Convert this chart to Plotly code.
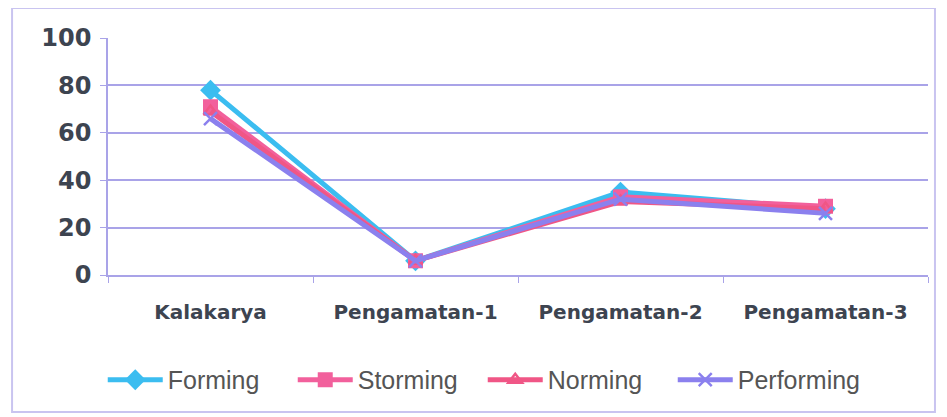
import plotly.graph_objects as go

categories = ["Kalakarya", "Pengamatan-1", "Pengamatan-2", "Pengamatan-3"]
forming = [78, 6, 35, 28]
storming = [71, 6, 33, 29]
norming = [69, 6, 31, 28]
performing = [66, 6, 32, 26]
y_ticks = [0, 20, 40, 60, 80, 100]

fig = go.Figure()
fig.add_trace(go.Scatter(x=categories, y=forming, name="Forming", mode="lines+markers",
                         line=dict(color="#3BBDF0", width=5),
                         marker=dict(symbol="diamond", size=16, color="#3BBDF0")))
fig.add_trace(go.Scatter(x=categories, y=storming, name="Storming", mode="lines+markers",
                         line=dict(color="#F2609C", width=5),
                         marker=dict(symbol="square", size=15, color="#F2609C")))
fig.add_trace(go.Scatter(x=categories, y=norming, name="Norming", mode="lines+markers",
                         line=dict(color="#F05686", width=5),
                         marker=dict(symbol="triangle-up-open", size=12, color="#F05686",
                                     line=dict(width=2.5))))
fig.add_trace(go.Scatter(x=categories, y=performing, name="Performing", mode="lines+markers",
                         line=dict(color="#8B80EE", width=5),
                         marker=dict(symbol="x-thin-open", size=13, color="#8B80EE",
                                     line=dict(width=2.5, color="#8B80EE"))))

fig.update_layout(
    width=939, height=409,
    margin=dict(l=100, r=19, t=30, b=142, autoexpand=False),
    paper_bgcolor="white", plot_bgcolor="white",
    font=dict(family="Liberation Sans, Arial", color="#3d4450"),
    showlegend=True,
    legend=dict(orientation="h", x=0.457, xanchor="center", y=-0.443, yanchor="middle",
                font=dict(size=25, color="#555", family="Liberation Sans, Arial"),
                itemwidth=55, tracegroupgap=0, entrywidth=120, entrywidthmode="pixels"),
    xaxis=dict(type="category", tickson="boundaries", ticks="outside", ticklen=6,
               tickcolor="#A9A3E8", showline=True, linecolor="#A9A3E8", linewidth=1.5,
               showgrid=False, range=[-0.5, 3.5], automargin=False,
               tickfont=dict(size=20, family="DejaVu Sans", color="#3d4450", weight="bold"),
               ticklabelstandoff=18),
    yaxis=dict(range=[0, 100], tickvals=y_ticks, ticks="outside", ticklen=6,
               tickcolor="#A9A3E8", showline=True, linecolor="#A9A3E8", linewidth=1.5,
               gridcolor="#A9A3E8", gridwidth=1.5, zeroline=False, automargin=False,
               tickfont=dict(size=24, family="DejaVu Sans", color="#3d4450", weight="bold"),
               ticklabelstandoff=4),
    shapes=[dict(type="rect", xref="paper", yref="paper", x0=-0.117, x1=1.0085,
                 y0=-0.578, y1=1.1266, line=dict(color="#C9C4F0", width=2))],
)

fig.write_html("out.html")
